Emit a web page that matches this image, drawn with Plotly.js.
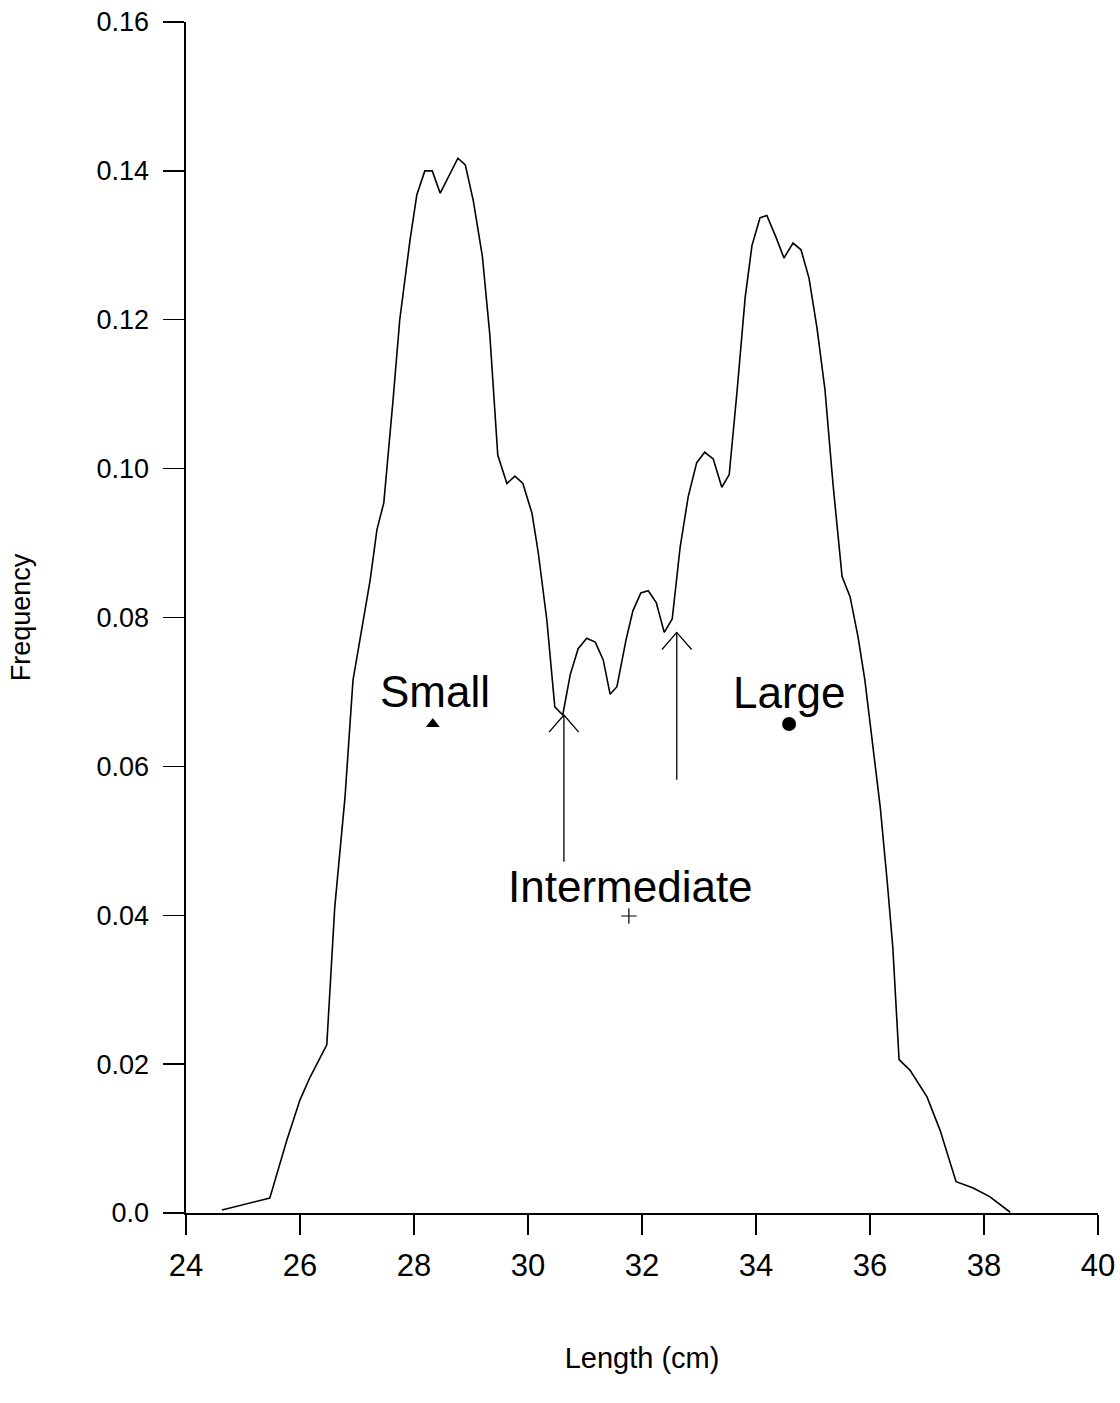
<!DOCTYPE html>
<html>
<head>
<meta charset="utf-8">
<script src="https://cdn.plot.ly/plotly-3.0.1.min.js"></script>
<style>html,body{margin:0;padding:0;background:#fff;}#chart{width:1120px;height:1403px;}</style>
</head>
<body>
<div id="chart"></div>
<script>
// Length (cm) and frequency of the smoothed length distribution
const lengthCm = [24.63,24.95,25.47,25.77,26.0,26.18,26.47,26.61,26.79,26.93,27.23,27.35,27.47,27.63,27.75,27.93,28.05,28.19,28.32,28.46,28.62,28.77,28.90,29.04,29.2,29.33,29.47,29.63,29.77,29.91,30.07,30.18,30.33,30.47,30.61,30.74,30.88,31.03,31.18,31.32,31.44,31.56,31.72,31.84,31.98,32.11,32.25,32.39,32.53,32.67,32.81,32.96,33.10,33.25,33.40,33.53,33.67,33.81,33.93,34.07,34.19,34.35,34.49,34.65,34.79,34.93,35.07,35.21,35.35,35.51,35.65,35.79,35.91,36.05,36.18,36.30,36.40,36.51,36.70,37.00,37.23,37.51,37.80,38.10,38.46];
const frequency = [0.0004,0.0010,0.0020,0.0098,0.0152,0.0183,0.0226,0.0411,0.0559,0.0716,0.0850,0.0918,0.0954,0.1090,0.1200,0.1307,0.1368,0.1400,0.1400,0.1370,0.1395,0.1417,0.1408,0.1360,0.1285,0.1180,0.1018,0.0980,0.0990,0.0980,0.0940,0.0887,0.0797,0.0680,0.0669,0.0723,0.0758,0.0772,0.0767,0.0743,0.0697,0.0707,0.0770,0.0809,0.0833,0.0836,0.0820,0.0780,0.0798,0.0895,0.0962,0.1008,0.1022,0.1013,0.0975,0.0992,0.1106,0.1230,0.1300,0.1337,0.1340,0.1311,0.1283,0.1303,0.1294,0.1256,0.1189,0.1106,0.0980,0.0855,0.0828,0.0774,0.0716,0.0626,0.0545,0.0447,0.0357,0.0206,0.0192,0.0156,0.0111,0.0042,0.0034,0.0022,0.0001];

// Group labels and their mean markers
const groupNames = ["Small", "Intermediate", "Large"];
const groupMeanX = [28.33, 31.77, 34.58];
const groupMeanY = [0.0657, 0.0399, 0.0657];
const groupSymbols = ["triangle-up", "cross-thin", "circle"];
const labelX = [28.37, 31.79, 34.58];
const labelY = [0.0700, 0.0438, 0.0699];

// Arrows marking group boundaries
const arrowX = [30.63, 32.61];
const arrowBaseY = [0.0472, 0.0582];
const arrowTipY = [0.0669, 0.0780];

// Axis ticks
const yTickVals = [0, 0.02, 0.04, 0.06, 0.08, 0.10, 0.12, 0.14, 0.16];
const yTickText = ["0.0", "0.02", "0.04", "0.06", "0.08", "0.10", "0.12", "0.14", "0.16"];
const xTickVals = [24, 26, 28, 30, 32, 34, 36, 38, 40];

const FONT = "Liberation Sans, Arial, Helvetica, sans-serif";
const traces = [];
traces.push({
  x: lengthCm, y: frequency, type: "scatter", mode: "lines",
  line: {color: "#000", width: 1.6}, hoverinfo: "skip", showlegend: false
});
for (let i = 0; i < groupNames.length; i++) {
  traces.push({
    x: [groupMeanX[i]], y: [groupMeanY[i]], type: "scatter", mode: "markers",
    marker: {symbol: groupSymbols[i], color: "#000",
             size: groupSymbols[i] === "cross-thin" ? 11 : (groupSymbols[i] === "circle" ? 14 : 12),
             line: {color: "#000", width: groupSymbols[i] === "cross-thin" ? 1.2 : 0}},
    showlegend: false, hoverinfo: "skip"
  });
}
// arrow shafts and open heads (head size in data units)
const headDx = 0.26, headDy = 0.0023;
for (let i = 0; i < arrowX.length; i++) {
  traces.push({
    x: [arrowX[i], arrowX[i], null, arrowX[i] - headDx, arrowX[i], arrowX[i] + headDx],
    y: [arrowBaseY[i], arrowTipY[i], null, arrowTipY[i] - headDy, arrowTipY[i], arrowTipY[i] - headDy],
    type: "scatter", mode: "lines", line: {color: "#000", width: 1.3},
    showlegend: false, hoverinfo: "skip"
  });
}

const annotations = groupNames.map((t, i) => ({
  x: labelX[i], y: labelY[i], xref: "x", yref: "y", text: t, showarrow: false,
  font: {family: FONT, size: 44, color: "#000"}, xanchor: "center", yanchor: "middle"
}));

const layout = {
  width: 1120, height: 1403,
  margin: {l: 186, r: 22, t: 22, b: 190},
  paper_bgcolor: "#fff", plot_bgcolor: "#fff",
  showlegend: false,
  font: {family: FONT, color: "#000"},
  xaxis: {
    range: [24, 40], tickvals: xTickVals, ticks: "outside", ticklen: 20, tickwidth: 1.3,
    tickcolor: "#000", showline: true, linecolor: "#000", linewidth: 1.6,
    showgrid: false, zeroline: false, tickfont: {size: 31, family: FONT}, ticklabelstandoff: 4,
    title: {text: "Length (cm)", font: {size: 29, family: FONT}, standoff: 66}
  },
  yaxis: {
    range: [0, 0.16], tickvals: yTickVals, ticktext: yTickText, ticks: "outside", ticklen: 21,
    tickwidth: 1.3, tickcolor: "#000", showline: true, linecolor: "#000", linewidth: 1.6,
    showgrid: false, zeroline: false, tickfont: {size: 27, family: FONT}, ticklabelstandoff: 9,
    title: {text: "Frequency", font: {size: 27, family: FONT}, standoff: 58}
  },
  annotations: annotations
};

Plotly.newPlot("chart", traces, layout, {staticPlot: true, displayModeBar: false});
</script>
</body>
</html>
